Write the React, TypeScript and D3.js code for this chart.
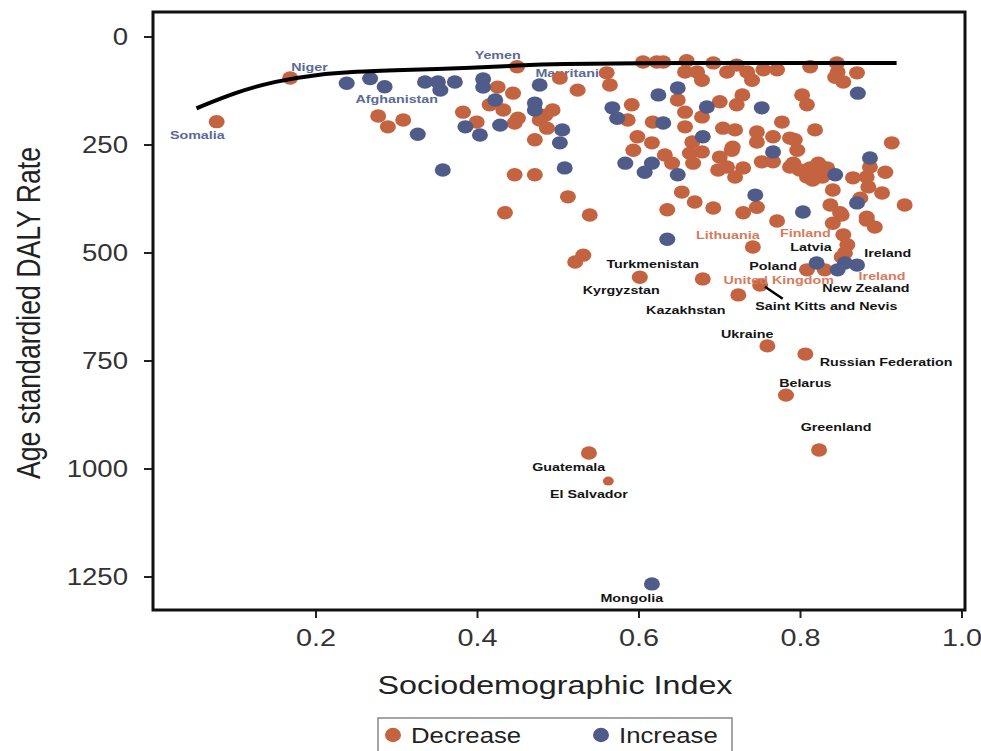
import React from 'react';
import * as d3 from 'd3';

// Sociodemographic Index (x) vs Age standardised DALY rate (y)
const decrease: [number, number][] = [
  [0.077, 196], [0.168, 95], [0.277, 183], [0.289, 208], [0.308, 192],
  [0.449, 69], [0.425, 116], [0.444, 130], [0.415, 157], [0.432, 169], [0.45, 188], [0.446, 199],
  [0.493, 169], [0.484, 181], [0.477, 192], [0.486, 211], [0.471, 238], [0.382, 174], [0.399, 197],
  [0.446, 319], [0.471, 319], [0.512, 370], [0.434, 407], [0.502, 95], [0.524, 123], [0.56, 83],
  [0.564, 111], [0.539, 412], [0.521, 521], [0.531, 505],
  [0.605, 58], [0.622, 58], [0.63, 58], [0.659, 55], [0.657, 81], [0.672, 81], [0.678, 100],
  [0.692, 60], [0.709, 81], [0.721, 65], [0.734, 81], [0.74, 100], [0.754, 76], [0.771, 76],
  [0.812, 69], [0.845, 60], [0.846, 81], [0.853, 104], [0.87, 83], [0.843, 93],
  [0.648, 146], [0.7, 150], [0.721, 157], [0.728, 134], [0.591, 157], [0.586, 192], [0.617, 197],
  [0.657, 174], [0.657, 208], [0.678, 185], [0.704, 211], [0.719, 215], [0.746, 220], [0.746, 243],
  [0.598, 231], [0.593, 262], [0.616, 245], [0.666, 243], [0.663, 269], [0.678, 266], [0.667, 292],
  [0.632, 273], [0.641, 292], [0.7, 278], [0.715, 262], [0.698, 308], [0.709, 301], [0.719, 324],
  [0.729, 303], [0.752, 289], [0.653, 359], [0.669, 382], [0.692, 396], [0.635, 400], [0.729, 407],
  [0.746, 394], [0.716, 255],
  [0.802, 134], [0.808, 157], [0.777, 197], [0.818, 215], [0.913, 245], [0.793, 238], [0.796, 262],
  [0.791, 292], [0.799, 308], [0.808, 324], [0.822, 292], [0.833, 303], [0.818, 315], [0.827, 324],
  [0.886, 301], [0.882, 324], [0.865, 326], [0.884, 347], [0.905, 313], [0.901, 361], [0.929, 389],
  [0.84, 354], [0.837, 389], [0.874, 373], [0.766, 289], [0.849, 407], [0.882, 417], [0.766, 231],
  [0.787, 234], [0.812, 303], [0.815, 331], [0.787, 301],
  [0.771, 426], [0.84, 431], [0.851, 412], [0.882, 424], [0.892, 440], [0.853, 458], [0.858, 481],
  [0.855, 500], [0.851, 509], [0.808, 539], [0.83, 539], [0.741, 486], [0.601, 556], [0.679, 560],
  [0.723, 597], [0.75, 574], [0.759, 715], [0.806, 734], [0.782, 829], [0.823, 956], [0.538, 963],
];
const decreaseSmall: [number, number][] = [[0.562, 1028]];

const increase: [number, number][] = [
  [0.238, 107], [0.267, 96], [0.285, 115], [0.326, 225], [0.335, 104], [0.351, 104], [0.372, 104],
  [0.354, 123], [0.407, 97], [0.407, 116], [0.422, 146], [0.477, 111], [0.471, 153], [0.471, 169],
  [0.385, 208], [0.403, 227], [0.428, 204], [0.357, 308], [0.505, 215], [0.502, 245], [0.508, 303],
  [0.624, 134], [0.648, 118], [0.684, 162], [0.752, 164], [0.567, 164], [0.573, 188], [0.63, 199],
  [0.679, 231], [0.583, 292], [0.616, 292], [0.607, 313], [0.648, 319], [0.744, 366],
  [0.871, 130], [0.766, 266], [0.843, 319], [0.886, 280], [0.87, 384], [0.803, 405],
  [0.635, 468], [0.82, 523], [0.855, 523], [0.87, 528], [0.846, 539], [0.616, 1266],
];

const trendX = [0.052, 0.1, 0.15, 0.2, 0.25, 0.3, 0.4, 0.45, 0.5, 0.6, 0.7, 0.8, 0.919];
const trendY = [165, 128, 102, 87, 80, 77, 71, 66, 62, 61, 60, 60, 60];

const xTicks = [0.2, 0.4, 0.6, 0.8, 1.0];
const yTicks = [0, 250, 500, 750, 1000, 1250];

type Lab = { t: string; x: number; y: number; k: 'b' | 'o' | 'k' };
const labelsUnder: Lab[] = [
  { t: 'Somalia', x: 0.053, y: 227, k: 'b' },
  { t: 'Niger', x: 0.192, y: 69, k: 'b' },
  { t: 'Afghanistan', x: 0.3, y: 144, k: 'b' },
  { t: 'Yemen', x: 0.425, y: 42, k: 'b' },
  { t: 'Mauritania', x: 0.516, y: 83, k: 'b' },
];
const labelsOver: Lab[] = [
  { t: 'Lithuania', x: 0.71, y: 458, k: 'o' },
  { t: 'Finland', x: 0.806, y: 454, k: 'o' },
  { t: 'Latvia', x: 0.813, y: 486, k: 'k' },
  { t: 'Ireland', x: 0.908, y: 500, k: 'k' },
  { t: 'Turkmenistan', x: 0.617, y: 525, k: 'k' },
  { t: 'Poland', x: 0.766, y: 531, k: 'k' },
  { t: 'United Kingdom', x: 0.773, y: 562, k: 'o' },
  { t: 'Ireland', x: 0.901, y: 553, k: 'o' },
  { t: 'Kyrgyzstan', x: 0.578, y: 586, k: 'k' },
  { t: 'New Zealand', x: 0.881, y: 581, k: 'k' },
  { t: 'Kazakhstan', x: 0.658, y: 632, k: 'k' },
  { t: 'Saint Kitts and Nevis', x: 0.832, y: 623, k: 'k' },
  { t: 'Ukraine', x: 0.734, y: 688, k: 'k' },
  { t: 'Russian Federation', x: 0.906, y: 752, k: 'k' },
  { t: 'Belarus', x: 0.806, y: 801, k: 'k' },
  { t: 'Greenland', x: 0.844, y: 903, k: 'k' },
  { t: 'Guatemala', x: 0.513, y: 995, k: 'k' },
  { t: 'El Salvador', x: 0.538, y: 1058, k: 'k' },
  { t: 'Mongolia', x: 0.591, y: 1299, k: 'k' },
];
const leader: [number, number][] = [[0.756, 578], [0.778, 606]];

const ORANGE = '#c4633f';
const BLUE = '#4f5c8a';
const LABEL_COL = { b: '#5b6a98', o: '#d67b5c', k: '#141414' };
const FONT = '"Liberation Sans", Arial, sans-serif';

const T = ({ x, y, sx = 1.25, children, ...rest }: any) => (
  <g transform={`translate(${x},${y}) scale(${sx},1)`}>
    <text x={0} y={0} {...rest}>{children}</text>
  </g>
);

export default function App() {
  const x = d3.scaleLinear().domain([0, 1]).range([154.5, 962]);
  const y = d3.scaleLinear().domain([0, 1250]).range([37, 577]);
  const trend = d3
    .line<number>()
    .x((_, i) => x(trendX[i]))
    .y((d) => y(d))
    .curve(d3.curveBasis)(trendY) as string;
  const leaderPath = d3.line<[number, number]>().x((d) => x(d[0])).y((d) => y(d[1]))(leader) as string;

  const left = 153, right = 965, top = 12, bottom = 610;
  const rx = 8, ry = 6.7;

  const renderLabel = (l: Lab, i: number) => (
    <T key={i} x={x(l.x)} y={y(l.y)} sx={1.3} fontFamily={FONT} fontWeight="bold" fontSize={11}
      fill={LABEL_COL[l.k]} textAnchor="middle" dy="0.35em">{l.t}</T>
  );

  return (
    <svg width={981} height={751} style={{ position: 'absolute', left: 0, top: 0, background: '#fff' }}>
      <rect x={0} y={0} width={981} height={751} fill="#fff" />
      {/* y axis title */}
      <g transform={`translate(40,313) scale(1.25,1) rotate(-90)`}>
        <text x={0} y={0} textAnchor="middle" fontFamily={FONT} fontSize={26} fill="#222"
          textLength={332} lengthAdjust="spacingAndGlyphs">Age standardied DALY Rate</text>
      </g>
      {/* y ticks */}
      {yTicks.map((t) => (
        <g key={t}>
          <line x1={left - 9} x2={left} y1={y(t)} y2={y(t)} stroke="#222" strokeWidth={2} />
          <T x={128} y={y(t)} sx={1.2} dy="0.36em" textAnchor="end" fontFamily={FONT} fontSize={23} fill="#333">{t}</T>
        </g>
      ))}
      {/* x ticks */}
      {xTicks.map((t) => (
        <g key={t}>
          <line x1={x(t)} x2={x(t)} y1={bottom} y2={bottom + 8} stroke="#222" strokeWidth={2} />
          <T x={x(t)} y={646} sx={1.2} textAnchor="middle" fontFamily={FONT} fontSize={24} fill="#333">{t.toFixed(1)}</T>
        </g>
      ))}
      <T x={555} y={694} sx={1.29} textAnchor="middle" fontFamily={FONT} fontSize={25} fill="#222">Sociodemographic Index</T>

      {/* labels under the dots */}
      {labelsUnder.map(renderLabel)}

      {/* dots */}
      {decrease.map((d, i) => (
        <ellipse key={'d' + i} cx={x(d[0])} cy={y(d[1])} rx={rx} ry={ry} fill={ORANGE} />
      ))}
      {decreaseSmall.map((d, i) => (
        <ellipse key={'s' + i} cx={x(d[0])} cy={y(d[1])} rx={5.5} ry={4.5} fill={ORANGE} />
      ))}
      {increase.map((d, i) => (
        <ellipse key={'i' + i} cx={x(d[0])} cy={y(d[1])} rx={rx} ry={ry} fill={BLUE} />
      ))}

      {/* trend line */}
      <path d={trend} fill="none" stroke="#000" strokeWidth={4} />
      <path d={leaderPath} fill="none" stroke="#000" strokeWidth={2.5} />

      {labelsOver.map(renderLabel)}

      {/* frame */}
      <rect x={left} y={top} width={right - left} height={bottom - top} fill="none" stroke="#111" strokeWidth={3} />

      {/* legend */}
      <rect x={378} y={718} width={354} height={40} fill="#fff" stroke="#888" strokeWidth={1.5} />
      <ellipse cx={393} cy={735} rx={rx} ry={ry + 0.5} fill={ORANGE} />
      <T x={411} y={743} sx={1.12} fontFamily={FONT} fontSize={23} fill="#222">Decrease</T>
      <ellipse cx={601} cy={735} rx={rx} ry={ry + 0.5} fill={BLUE} />
      <T x={619} y={743} sx={1.12} fontFamily={FONT} fontSize={23} fill="#222">Increase</T>
    </svg>
  );
}
